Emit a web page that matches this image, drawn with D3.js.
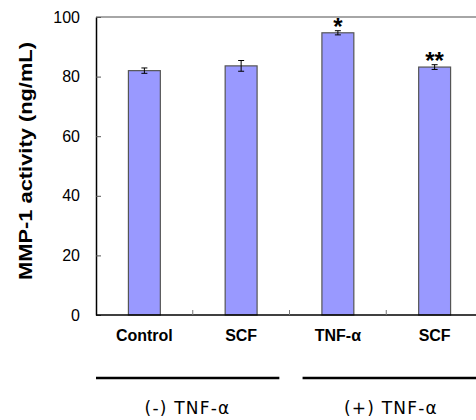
<!DOCTYPE html>
<head>
  <meta charset="utf-8">
  <script src="https://d3js.org/d3.v7.min.js"></script>
  <style>
    body { margin:0; background:#fff; }
    text { font-family: "Liberation Sans", Arial, sans-serif; }
  </style>
</head>
<body>
<script>
// data
var categories = ["Control", "SCF", "TNF-α", "SCF "];
var values = [82.0, 83.6, 94.7, 83.2];
var errors = [0.9, 1.8, 0.7, 0.8];
var marks = ["", "", "*", "**"];
var yTicks = [0, 20, 40, 60, 80, 100];
var groups = [
  {label: "(-) TNF-α", from: 0, to: 1},
  {label: "(+) TNF-α", from: 2, to: 3}
];

var width = 476, height = 420;
var plotLeft = 96, plotTop = 17, plotBottom = 315, plotRight = 483;

var svg = d3.select("body").append("svg")
  .attr("width", width)
  .attr("height", height);

var x = d3.scaleBand()
  .domain(categories)
  .range([plotLeft, plotRight])
  .paddingInner(0.67)
  .paddingOuter(0.335);

var y = d3.scaleLinear()
  .domain([0, 100])
  .range([plotBottom, plotTop]);

// top frame line (gray)
svg.append("line")
  .attr("x1", plotLeft).attr("x2", width)
  .attr("y1", y(100)).attr("y2", y(100))
  .attr("stroke", "#888").attr("stroke-width", 1.5);

// bars
svg.selectAll(".bar")
  .data(values)
  .enter().append("rect")
  .attr("class", "bar")
  .attr("x", function(d, i) { return x(categories[i]); })
  .attr("y", function(d) { return y(d); })
  .attr("width", x.bandwidth())
  .attr("height", function(d) { return y(0) - y(d); })
  .attr("fill", "#9999ff")
  .attr("stroke", "#555")
  .attr("stroke-width", 1.2);

// error bars
var eb = svg.selectAll(".err")
  .data(values)
  .enter().append("g")
  .attr("class", "err")
  .attr("transform", function(d, i) { return "translate(" + (x(categories[i]) + x.bandwidth() / 2) + ",0)"; });
eb.append("line")
  .attr("y1", function(d, i) { return y(d + errors[i]); })
  .attr("y2", function(d, i) { return y(d - errors[i]); })
  .attr("stroke", "#000");
eb.append("line")
  .attr("x1", -3).attr("x2", 3)
  .attr("y1", function(d, i) { return y(d + errors[i]); })
  .attr("y2", function(d, i) { return y(d + errors[i]); })
  .attr("stroke", "#000");
eb.append("line")
  .attr("x1", -3).attr("x2", 3)
  .attr("y1", function(d, i) { return y(d - errors[i]); })
  .attr("y2", function(d, i) { return y(d - errors[i]); })
  .attr("stroke", "#000");

// significance marks
svg.selectAll(".mark")
  .data(values)
  .enter().append("text")
  .attr("class", "mark")
  .attr("x", function(d, i) { return x(categories[i]) + x.bandwidth() / 2; })
  .attr("y", function(d, i) { return y(d + errors[i]) + 4; })
  .attr("text-anchor", "middle")
  .style("font-size", "24px")
  .style("font-weight", "bold")
  .text(function(d, i) { return marks[i]; });

// y axis
var yAxis = d3.axisLeft(y)
  .tickValues(yTicks)
  .tickSizeInner(-5)
  .tickSizeOuter(0)
  .tickPadding(16);
var gy = svg.append("g")
  .attr("transform", "translate(" + plotLeft + ",0)")
  .call(yAxis);
gy.select(".domain").attr("stroke", "#000").attr("stroke-width", 1.5);
gy.selectAll(".tick line").attr("stroke", "#555");
gy.selectAll(".tick text")
  .style("font-family", "'Liberation Sans', Arial, sans-serif")
  .style("font-size", "16px")
  .attr("fill", "#000");

// x axis
svg.append("line")
  .attr("x1", plotLeft).attr("x2", width)
  .attr("y1", plotBottom).attr("y2", plotBottom)
  .attr("stroke", "#000").attr("stroke-width", 1.5);

// tick marks between categories
var step = x.step();
svg.selectAll(".xtick")
  .data(categories.slice(1))
  .enter().append("line")
  .attr("class", "xtick")
  .attr("x1", function(d) { return x(d) - step * 0.335; })
  .attr("x2", function(d) { return x(d) - step * 0.335; })
  .attr("y1", plotBottom).attr("y2", plotBottom - 5)
  .attr("stroke", "#777");

svg.selectAll(".xlabel")
  .data(categories)
  .enter().append("text")
  .attr("class", "xlabel")
  .attr("x", function(d) { return x(d) + x.bandwidth() / 2; })
  .attr("y", 341)
  .attr("text-anchor", "middle")
  .style("font-size", "16px")
  .style("font-weight", "bold")
  .text(function(d) { return d.trim(); });

// group lines and labels
svg.selectAll(".gline")
  .data(groups)
  .enter().append("line")
  .attr("class", "gline")
  .attr("x1", function(g) { return g.from === 0 ? plotLeft : x(categories[g.from]) - step * 0.2; })
  .attr("x2", function(g) { return g.to === 1 ? x(categories[g.to]) + x.bandwidth() + step * 0.23 : plotRight; })
  .attr("y1", 378).attr("y2", 378)
  .attr("stroke", "#000").attr("stroke-width", 2.5);

svg.selectAll(".glabel")
  .data(groups)
  .enter().append("text")
  .attr("class", "glabel")
  .attr("x", function(g, i) { return i === 0 ? 187.5 : 391; })
  .attr("y", 414)
  .attr("text-anchor", "middle")
  .style("font-family", "'DejaVu Sans', sans-serif")
  .style("font-size", "17px")
  .style("letter-spacing", "1.2px")
  .text(function(g) { return g.label; });

// y axis title
svg.append("text")
  .attr("transform", "translate(32,161) rotate(-90)")
  .attr("text-anchor", "middle")
  .attr("textLength", 238)
  .attr("lengthAdjust", "spacingAndGlyphs")
  .style("font-size", "19px")
  .style("font-weight", "bold")
  .text("MMP-1 activity (ng/mL)");
</script>
</body>
